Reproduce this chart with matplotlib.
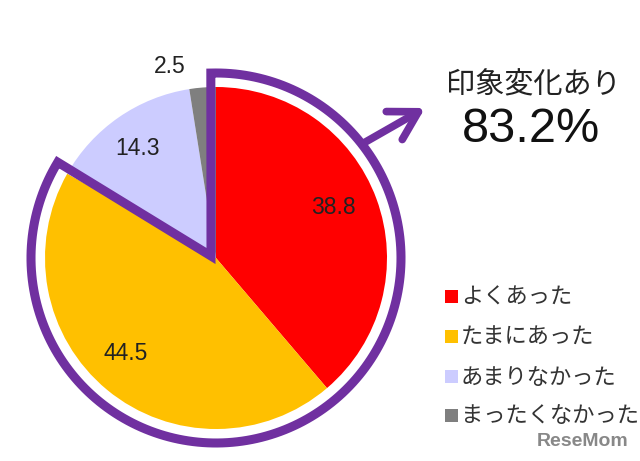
import matplotlib
matplotlib.use('Agg')
import matplotlib.pyplot as plt
import numpy as np
from matplotlib.patches import Polygon, Rectangle

# ---- data ----
categories = ['よくあった', 'たまにあった', 'あまりなかった', 'まったくなかった']
values = [38.8, 44.5, 14.3, 2.5]
value_labels = ['38.8', '44.5', '14.3', '2.5']
colors = ['#FF0000', '#FFC000', '#CCCCFF', '#7F7F7F']
headline = '印象変化あり'
headline_value = '83.2%'
watermark = 'ReseMom'

# ---- layout ----
W, H = 640, 461
PURPLE = '#7030A0'
JP = ['Noto Sans CJK JP', 'DejaVu Sans']
NUM = ['Liberation Sans', 'DejaVu Sans']

fig = plt.figure(figsize=(6.4, 4.61), dpi=100)
ax = fig.add_axes([0, 0, 1, 1])
cx, cy = 216, H - 258
R = 171

wedges, _ = ax.pie(values, colors=colors, startangle=90, counterclock=False,
                   center=(cx, cy), radius=R, wedgeprops=dict(linewidth=0))
ax.set_xlim(0, W)
ax.set_ylim(0, H)
ax.set_aspect('equal')
ax.axis('off')

# value labels: (radius factor, angle nudge in degrees)
label_pos = [(0.75, 3.0), (0.77, -4.0), (0.79, 1.0), (1.15, 9.0)]
for w, txt, (rf, nud) in zip(wedges, value_labels, label_pos):
    mid = np.deg2rad((w.theta1 + w.theta2) / 2 + nud)
    ax.text(cx + rf * R * np.cos(mid), cy + rf * R * np.sin(mid), txt,
            ha='center', va='center', fontsize=16.5, family=NUM, color='#222222')

# purple outline around first two slices
a0 = wedges[1].theta1 - 1.6
a1 = wedges[0].theta2 + 1.6
Ro = 185
angs = np.deg2rad(np.linspace(a0, a1, 200))
arc = np.column_stack([cx + Ro * np.cos(angs), cy + Ro * np.sin(angs)])
apex = np.array([[cx - 5, cy + 2]])
pts = np.vstack([apex, arc])
ax.add_patch(Polygon(pts, closed=True, fill=False, edgecolor=PURPLE,
                     linewidth=6.5, joinstyle='miter'))

# arrow
sa = np.deg2rad(38)
start = (cx + Ro * np.cos(sa), cy + Ro * np.sin(sa))
ax.annotate('', xy=(425, H - 108), xytext=start,
            arrowprops=dict(arrowstyle='->,head_length=1.0,head_width=0.58',
                            lw=5.5, color=PURPLE, shrinkA=0, shrinkB=0,
                            mutation_scale=20))

ax.text(533, H - 85, headline, ha='center', va='center', fontsize=21,
        family=JP, color='#222222')
ax.text(531, H - 130, headline_value, ha='center', va='center', fontsize=35,
        family=NUM, color='#111111')

# legend
rows_y = [297, 337, 377, 416]
for c, lab, yy in zip(colors, categories, rows_y):
    ax.add_patch(Rectangle((445, H - yy - 6.5), 13, 13, facecolor=c,
                           edgecolor='none'))
    ax.text(461, H - yy, lab, ha='left', va='center', fontsize=16,
            family=JP, color='#333333')

ax.text(583, H - 441, watermark, ha='center', va='center', fontsize=14,
        fontweight='bold', family=NUM, color='#888888')

fig.savefig('out.png', dpi=100)
